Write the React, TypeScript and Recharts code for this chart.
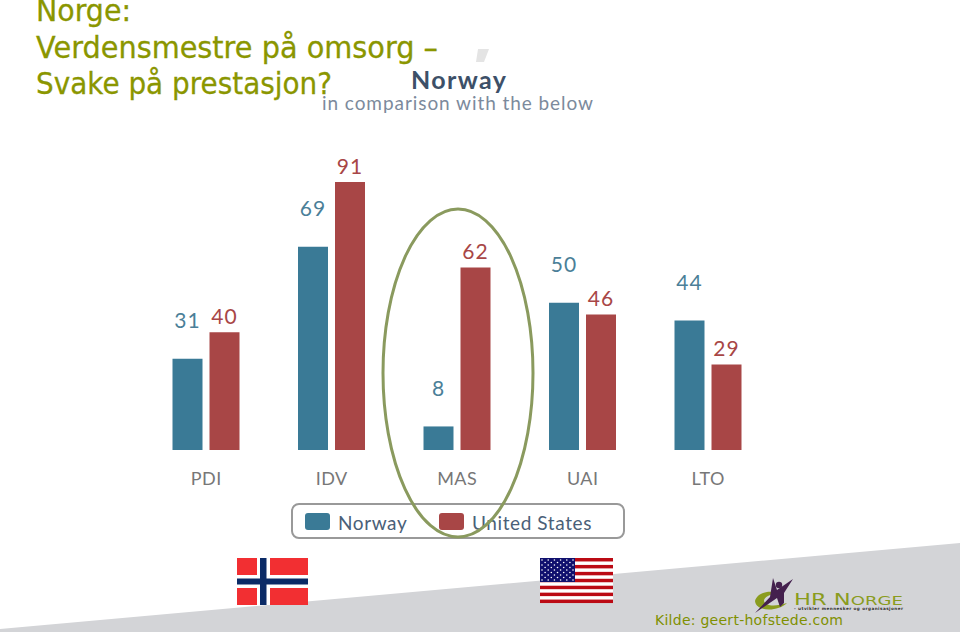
import React from "react";
import { BarChart, Bar, XAxis, YAxis, LabelList, Legend } from "recharts";

const categories = ["PDI", "IDV", "MAS", "UAI", "LTO"];
const norway = [31, 69, 8, 50, 44];
const unitedStates = [40, 91, 62, 46, 29];
const titleLines = ["Norge:", "Verdensmestre på omsorg –", "Svake på prestasjon?"];
const rows = categories.map((c, i) => ({ c, norway: norway[i], us: unitedStates[i] }));

const BLUE = "#3a7a96";
const RED = "#a84646";
const OLIVE = "#8a9600";
const LOGO_GREEN = "#8a9c1e";
const full: React.CSSProperties = { position: "absolute", left: 0, top: 0 };

const legendContent = () => (
  <div style={{ position: "relative", width: 334, height: 36, boxSizing: "border-box", border: "2px solid #999", borderRadius: 8, fontFamily: "Lato, sans-serif", fontSize: 19, color: "#4a6078", background: "transparent" }}>
    <div style={{ position: "absolute", left: 12, top: 8, width: 25, height: 17, background: BLUE, borderRadius: 3 }} />
    <div style={{ position: "absolute", left: 45, top: 6, letterSpacing: 0.6 }}>Norway</div>
    <div style={{ position: "absolute", left: 146, top: 8, width: 25, height: 17, background: RED, borderRadius: 3 }} />
    <div style={{ position: "absolute", left: 179, top: 6, letterSpacing: 0.6, whiteSpace: "nowrap" }}>United States</div>
  </div>
);

function Backdrop() {
  const stripes = [0, 1, 2, 3, 4, 5, 6];
  const starRows = [0, 1, 2, 3, 4, 5, 6, 7, 8];
  const starCols = [0, 1, 2, 3, 4, 5, 6, 7, 8, 9, 10];
  return (
    <svg width={960} height={632} style={full}>
      <polygon points="0,629 960,543 960,632 0,632" fill="#d3d4d7" />
      <g>
        <rect x={237} y={558} width={71} height={47} fill="#f22f32" />
        <rect x={257} y={558} width={13} height={47} fill="#fff" />
        <rect x={237} y={575} width={71} height={13} fill="#fff" />
        <rect x={260} y={558} width={6.5} height={47} fill="#0a2a66" />
        <rect x={237} y={578.5} width={71} height={6} fill="#0a2a66" />
      </g>
      <g>
        <rect x={540} y={558} width={73} height={45} fill="#fff" />
        {stripes.map((s) => (
          <rect key={s} x={540} y={558 + s * 6.93} width={73} height={3.46} fill="#bb0a14" />
        ))}
        <rect x={540} y={558} width={35} height={24} fill="#10106e" />
        {starRows.map((r) =>
          starCols.map((k) =>
            (r + k) % 2 === 0 ? <circle key={`${r}-${k}`} cx={542 + k * 3.1} cy={560 + r * 2.5} r={0.8} fill="#fff" /> : null
          )
        )}
      </g>
      <polygon points="478,49 489,49 484,62 476,62" fill="#e4e4e4" />
    </svg>
  );
}

function Overlay() {
  return (
    <svg width={960} height={632} style={full}>
      <ellipse cx={458} cy={373} rx={75} ry={164} fill="none" stroke="#8a9a5e" strokeWidth={3} />
      <g fontFamily="'DejaVu Sans', sans-serif" fill={OLIVE} stroke={OLIVE} strokeWidth={0.3}>
        <text x={36} y={21} fontSize={30} textLength={95} lengthAdjust="spacingAndGlyphs">{titleLines[0]}</text>
        <text x={36} y={58} fontSize={30} textLength={402} lengthAdjust="spacingAndGlyphs">{titleLines[1]}</text>
        <text x={36} y={94} fontSize={30} textLength={296} lengthAdjust="spacingAndGlyphs">{titleLines[2]}</text>
      </g>
      <text x={411} y={89} fontFamily="Lato, sans-serif" fontWeight={700} fontSize={25} fill="#3d5068" textLength={95}>Norway</text>
      <text x={322} y={110} fontFamily="Lato, sans-serif" fontSize={19} fill="#7c8a9c" textLength={271}>in comparison with the below</text>
      <g>
        <path d="M755 601 C757 593 768 590 778 593 C770 594 764 597 764 601 C765 606 775 607 787 603 C778 612 756 612 755 601 Z" fill={LOGO_GREEN} />
        <path d="M773 578 L777 590 L793 579 L784 593 L784 603 L780 607 L777 598 L755 613 L770 597 Z" fill="#44204e" />
        <circle cx={779} cy={585} r={3.2} fill="#44204e" />
        <text x={794} y={605} fontFamily="'DejaVu Sans', sans-serif" fill={LOGO_GREEN} textLength={109} lengthAdjust="spacingAndGlyphs">
          <tspan fontSize={15}>HR N</tspan>
          <tspan fontSize={12}>ORGE</tspan>
        </text>
        <text x={794} y={609.5} fontFamily="'DejaVu Sans', sans-serif" fontSize={4.2} fontWeight={700} fill="#333" textLength={109}>- utvikler mennesker og organisasjoner</text>
      </g>
      <text x={655} y={625} fontFamily="'DejaVu Sans', sans-serif" fontSize={14} fill="#7f9000" textLength={188}>Kilde: geert-hofstede.com</text>
    </svg>
  );
}

export default function App() {
  return (
    <div style={{ ...full, width: 960, height: 632, overflow: "hidden", background: "#fff" }}>
      <Backdrop />
      <div style={full}>
        <BarChart width={960} height={632} data={rows} margin={{ top: 155.5, right: 189, bottom: 97, left: 143.5 }} barSize={30} barGap={7}>
          <XAxis dataKey="c" axisLine={false} tickLine={false} tick={{ fill: "#777", fontSize: 18, fontFamily: "Lato, sans-serif", letterSpacing: 0.5 }} tickMargin={16} height={50} />
          <YAxis hide domain={[0, 100]} />
          <Bar dataKey="norway" fill={BLUE} isAnimationActive={false}>
            <LabelList dataKey="norway" position="top" offset={30.5} fill="#4b7f98" fontSize={21} letterSpacing={1} fontFamily="Lato, sans-serif" />
          </Bar>
          <Bar dataKey="us" fill={RED} isAnimationActive={false}>
            <LabelList dataKey="us" position="top" offset={8.5} fill={RED} fontSize={21} letterSpacing={1} fontFamily="Lato, sans-serif" />
          </Bar>
          <Legend content={legendContent} layout="horizontal" wrapperStyle={{ left: 291, top: 503, width: 334, height: 35 }} />
        </BarChart>
      </div>
      <Overlay />
    </div>
  );
}
